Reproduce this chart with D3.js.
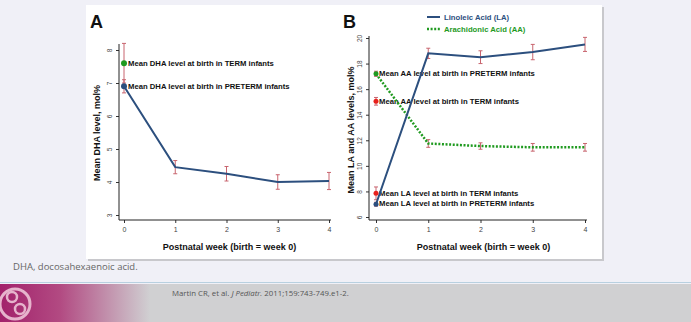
<!DOCTYPE html>
<html><head><meta charset="utf-8">
<script src="https://cdn.jsdelivr.net/npm/d3@7"></script>
<style>
html,body{margin:0;padding:0;background:#f0f0f7;}
svg{display:block;}
</style></head>
<body>
<svg id="c" width="691" height="322"></svg>
<script>
// ---- data ----
const weeks = [0, 1, 2, 3, 4];
const dhaPreterm = [6.9, 4.45, 4.25, 4.0, 4.03];
const dhaErr = [0.2, 0.2, 0.22, 0.22, 0.26];
const dhaTerm = 7.6, dhaTermErr = 0.6;
const laPreterm = [7.0, 18.8, 18.5, 18.9, 19.5];
const laErr = [0.15, 0.4, 0.5, 0.6, 0.55];
const laTerm = 7.85, laTermErr = 0.5;
const aaPreterm = [17.2, 11.75, 11.55, 11.45, 11.45];
const aaErr = [0.2, 0.3, 0.25, 0.3, 0.3];
const aaTerm = 15.05, aaTermErr = 0.3;
const dhaTicks = [3, 4, 5, 6, 7, 8];
const laaaTicks = [6, 8, 10, 12, 14, 16, 18, 20];

const svg = d3.select("#c");
const F = "Liberation Sans, Arial, sans-serif";
const BLUE = "#2c4f7e", GREEN = "#1f9a1f", RED = "#e8201c", ERR = "#c8646e";

// background slide parts
svg.append("rect").attr("x", 88).attr("y", 7).attr("width", 516).attr("height", 254).attr("fill", "#c8c8cc");
svg.append("rect").attr("x", 86).attr("y", 5).attr("width", 516).attr("height", 254).attr("fill", "#fff");
svg.append("text").attr("x", 13).attr("y", 270).attr("font-family", "Open Sans, sans-serif").attr("font-size", 9.5).attr("fill", "#666").text("DHA, docosahexaenoic acid.");
svg.append("rect").attr("x", 0).attr("y", 282).attr("width", 691).attr("height", 1).attr("fill", "#b8d0e0");
svg.append("rect").attr("x", 0).attr("y", 284).attr("width", 691).attr("height", 38).attr("fill", "#d0d0d2");
const defs = svg.append("defs");
const g = defs.append("linearGradient").attr("id", "fg");
g.append("stop").attr("offset", "0").attr("stop-color", "#a2216b");
g.append("stop").attr("offset", "0.4").attr("stop-color", "#b24a82");
g.append("stop").attr("offset", "1").attr("stop-color", "#d0d0d2");
svg.append("rect").attr("x", 0).attr("y", 284).attr("width", 150).attr("height", 38).attr("fill", "url(#fg)");
svg.append("circle").attr("cx", 15).attr("cy", 304).attr("r", 15).attr("fill", "none").attr("stroke", "#e6b3cc").attr("stroke-width", 3);
svg.append("circle").attr("cx", 12).attr("cy", 297).attr("r", 5).attr("fill", "none").attr("stroke", "#e6b3cc").attr("stroke-width", 2.5);
svg.append("circle").attr("cx", 20).attr("cy", 309).attr("r", 5).attr("fill", "none").attr("stroke", "#e6b3cc").attr("stroke-width", 2.5);
const ft = svg.append("text").attr("x", 172).attr("y", 296).attr("font-family", "Open Sans, sans-serif").attr("font-size", 7.8).attr("fill", "#555");
ft.append("tspan").text("Martin CR, et al. ");
ft.append("tspan").attr("font-style", "italic").text("J Pediatr.");
ft.append("tspan").text(" 2011;159:743-749.e1-2.");

function panel(o) {
  const x = d3.scaleLinear().domain([0, 4]).range(o.xr);
  const y = d3.scaleLinear().domain(o.yd).range(o.yr);
  const G = svg.append("g");
  const ya = G.append("g").attr("transform", `translate(${o.ax},0)`)
    .call(d3.axisLeft(y).tickValues(o.ticks).tickSize(3).tickFormat(d3.format("d")));
  ya.select(".domain").remove();
  ya.selectAll("line").attr("stroke", "#333");
  ya.selectAll("text").attr("font-family", F).attr("font-size", 6.5).attr("fill", "#444")
    .attr("x", -6).attr("dy", "0.3em").attr("text-anchor", "middle")
    .attr("transform", "translate(-3,0) rotate(-90,-6,0)");
  const xa = G.append("g").attr("transform", `translate(0,${o.ay})`)
    .call(d3.axisBottom(x).tickValues(weeks).tickSize(3).tickFormat(d3.format("d")));
  xa.select(".domain").remove();
  xa.selectAll("line").attr("stroke", "#333");
  xa.selectAll("text").attr("font-family", F).attr("font-size", 7).attr("fill", "#444").attr("dy", "0.9em");
  G.append("line").attr("x1", o.ax).attr("x2", o.ax).attr("y1", o.ytop).attr("y2", o.ay).attr("stroke", "#222");
  G.append("line").attr("x1", o.ax).attr("x2", x(4) + 2).attr("y1", o.ay).attr("y2", o.ay).attr("stroke", "#222");
  G.append("text").attr("x", (x(0) + x(4)) / 2 + 3).attr("y", 250).attr("text-anchor", "middle")
    .attr("font-family", F).attr("font-weight", "bold").attr("font-size", 9).attr("fill", "#111").text("Postnatal week (birth = week 0)");
  G.append("text").attr("transform", `translate(${o.tx},${o.tyc}) rotate(-90)`).attr("text-anchor", "middle")
    .attr("font-family", F).attr("font-weight", "bold").attr("font-size", 9).attr("fill", "#111").text(o.ytitle);
  G.append("text").attr("x", o.lx).attr("y", 28).attr("font-family", F).attr("font-weight", "bold").attr("font-size", 18).attr("fill", "#111").text(o.letter);
  return { x, y, G };
}

function errbar(G, x, y, xv, v, e) {
  const cx = x(xv);
  G.append("line").attr("x1", cx).attr("x2", cx).attr("y1", y(v - e)).attr("y2", y(v + e)).attr("stroke", ERR).attr("stroke-width", 1);
  [v - e, v + e].forEach(t => G.append("line").attr("x1", cx - 2).attr("x2", cx + 2).attr("y1", y(t)).attr("y2", y(t)).attr("stroke", ERR).attr("stroke-width", 1));
}
function label(G, xp, yp, txt) {
  G.append("text").attr("x", xp).attr("y", yp).attr("dy", "0.35em").attr("font-family", F).attr("font-weight", "bold")
    .attr("font-size", 7.7).attr("fill", "#111").text(txt);
}

// ---- Panel A ----
const A = panel({ xr: [124, 329], yd: [3, 8], yr: [215, 50], ax: 119, ay: 220, ytop: 44, ticks: dhaTicks,
  tx: 100, tyc: 133, ytitle: "Mean DHA level, mol%", lx: 90, letter: "A" });
label(A.G, A.x(0) + 4, A.y(dhaTerm), "Mean DHA level at birth in TERM infants");
label(A.G, A.x(0) + 4, A.y(dhaPreterm[0]), "Mean DHA level at birth in PRETERM infants");
errbar(A.G, A.x, A.y, 0, dhaTerm, dhaTermErr);
weeks.forEach((w, i) => errbar(A.G, A.x, A.y, w, dhaPreterm[i], dhaErr[i]));
A.G.append("path").datum(weeks.map((w, i) => [w, dhaPreterm[i]]))
  .attr("d", d3.line().x(d => A.x(d[0])).y(d => A.y(d[1]))).attr("fill", "none").attr("stroke", BLUE).attr("stroke-width", 2);
A.G.append("circle").attr("cx", A.x(0)).attr("cy", A.y(dhaTerm)).attr("r", 3).attr("fill", GREEN);
A.G.append("circle").attr("cx", A.x(0)).attr("cy", A.y(dhaPreterm[0])).attr("r", 3).attr("fill", BLUE);

// ---- Panel B ----
const B = panel({ xr: [376, 585], yd: [6, 20], yr: [217, 38], ax: 369, ay: 220, ytop: 36, ticks: laaaTicks,
  tx: 354, tyc: 130, ytitle: "Mean LA and AA levels, mol%", lx: 343, letter: "B" });
label(B.G, B.x(0) + 3, B.y(aaPreterm[0]), "Mean AA level at birth in PRETERM infants");
label(B.G, B.x(0) + 3, B.y(aaTerm), "Mean AA level at birth in TERM infants");
label(B.G, B.x(0) + 3, B.y(laTerm), "Mean LA level at birth in TERM infants");
label(B.G, B.x(0) + 3, B.y(laPreterm[0]) - 1, "Mean LA level at birth in PRETERM infants");
errbar(B.G, B.x, B.y, 0, laTerm, laTermErr);
errbar(B.G, B.x, B.y, 0, aaTerm, aaTermErr);
weeks.forEach((w, i) => { errbar(B.G, B.x, B.y, w, laPreterm[i], laErr[i]); errbar(B.G, B.x, B.y, w, aaPreterm[i], aaErr[i]); });
B.G.append("path").datum(weeks.map((w, i) => [w, aaPreterm[i]]))
  .attr("d", d3.line().x(d => B.x(d[0])).y(d => B.y(d[1]))).attr("fill", "none").attr("stroke", GREEN).attr("stroke-width", 2.5).attr("stroke-dasharray", "2,1.6");
B.G.append("path").datum(weeks.map((w, i) => [w, laPreterm[i]]))
  .attr("d", d3.line().x(d => B.x(d[0])).y(d => B.y(d[1]))).attr("fill", "none").attr("stroke", BLUE).attr("stroke-width", 2);
B.G.append("circle").attr("cx", B.x(0)).attr("cy", B.y(aaPreterm[0])).attr("r", 2.5).attr("fill", GREEN);
B.G.append("circle").attr("cx", B.x(0)).attr("cy", B.y(aaTerm)).attr("r", 2.5).attr("fill", RED);
B.G.append("circle").attr("cx", B.x(0)).attr("cy", B.y(laTerm)).attr("r", 2.5).attr("fill", RED);
B.G.append("circle").attr("cx", B.x(0)).attr("cy", B.y(laPreterm[0])).attr("r", 2.5).attr("fill", BLUE);
// legend
B.G.append("line").attr("x1", 427).attr("x2", 440).attr("y1", 17).attr("y2", 17).attr("stroke", BLUE).attr("stroke-width", 2);
B.G.append("text").attr("x", 444).attr("y", 17).attr("dy", "0.35em").attr("font-family", F).attr("font-weight", "bold").attr("font-size", 7.7).attr("fill", BLUE).text("Linoleic Acid (LA)");
B.G.append("line").attr("x1", 427).attr("x2", 440).attr("y1", 29).attr("y2", 29).attr("stroke", GREEN).attr("stroke-width", 2.5).attr("stroke-dasharray", "2,1.6");
B.G.append("text").attr("x", 444).attr("y", 29).attr("dy", "0.35em").attr("font-family", F).attr("font-weight", "bold").attr("font-size", 7.7).attr("fill", GREEN).text("Arachidonic Acid (AA)");
</script>
</body></html>
